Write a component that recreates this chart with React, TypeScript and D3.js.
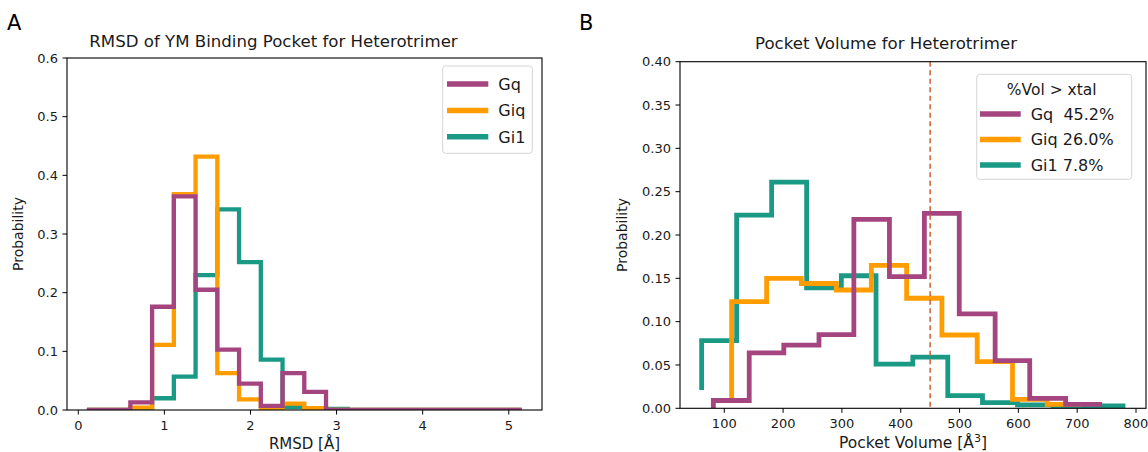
import React from 'react';
import * as d3 from 'd3';

// ---------- Panel A: RMSD histogram (step) ----------
const rmsdEdges = [0.10, 0.3525, 0.605, 0.8575, 1.11, 1.3625, 1.615, 1.8675, 2.12, 2.3725, 2.625, 2.8775, 3.13, 3.3825, 3.635, 3.8875, 4.14, 4.3925, 4.645, 4.8975, 5.15];
const rmsdGq = [0, 0, 0.013, 0.176, 0.364, 0.205, 0.103, 0.045, 0.007, 0.063, 0.031, 0, 0, 0, 0, 0, 0, 0, 0, 0];
const rmsdGiq = [0, 0, 0.004, 0.111, 0.368, 0.432, 0.063, 0.018, 0.003, 0.011, 0.003, 0, 0, 0, 0, 0, 0, 0, 0, 0];
const rmsdGi1 = [0, 0, 0, 0.020, 0.057, 0.230, 0.342, 0.252, 0.086, 0.005, 0.003, 0.002, 0, 0, 0, 0, 0, 0, 0, 0];

const rmsdXTicks = [0, 1, 2, 3, 4, 5];
const rmsdYTicks = [0, 0.1, 0.2, 0.3, 0.4, 0.5, 0.6];

// ---------- Panel B: pocket volume (step, 'pre') ----------
const volGqX = [81.4, 142.4, 201.2, 261, 320.3, 380.8, 440.2, 499.5, 560.5, 619.3, 680.4, 742.4];
const volGqY = [0.0, 0.009, 0.064, 0.073, 0.085, 0.218, 0.152, 0.225, 0.109, 0.055, 0.0115, 0.0046];
const volGiqX = [112.5, 172, 231, 290.5, 350, 410, 470, 530, 590, 649, 708.5];
const volGiqY = [0.0104, 0.123, 0.150, 0.144, 0.1365, 0.165, 0.127, 0.0846, 0.0538, 0.0104, 0.0046];
const volGi1X = [61.5, 121, 180.5, 240, 299, 358, 420.5, 480, 539, 598.5, 659, 720, 782];
const volGi1Y = [0.021, 0.078, 0.223, 0.261, 0.139, 0.153, 0.051, 0.059, 0.0146, 0.0065, 0.004, 0.003, 0.0027];

const volXTicks = [100, 200, 300, 400, 500, 600, 700, 800];
const volYTicks = [0, 0.05, 0.10, 0.15, 0.20, 0.25, 0.30, 0.35, 0.40];
const xtalVolume = 450;

const seriesNames = ['Gq', 'Giq', 'Gi1'];
const seriesPct = ['45.2%', '26.0%', '7.8%'];
const legendTitleB = '%Vol > xtal';
const colors = ['#a4457f', '#ff9d00', '#1a9985'];

const FONT = "'DejaVu Sans', sans-serif";
const TXT = '#1a1a1a';

type Pt = [number, number];

function Axes({ x0, x1, y0, y1, xs, ys, xTicks, yTicks, xFmt, yFmt, id, children }: any) {
  return (
    <g>
      <defs>
        <clipPath id={id}>
          <rect x={x0} y={y0} width={x1 - x0} height={y1 - y0} />
        </clipPath>
      </defs>
      <g clipPath={`url(#${id})`}>{children}</g>
      <rect x={x0} y={y0} width={x1 - x0} height={y1 - y0} fill="none" stroke="#000" strokeWidth={1.1} />
      {xTicks.map((t: number) => (
        <g key={'x' + t}>
          <line x1={xs(t)} x2={xs(t)} y1={y1} y2={y1 + 4.5} stroke="#000" strokeWidth={1} />
          <text x={xs(t)} y={y1 + 19.5} textAnchor="middle" fontSize={13} fontFamily={FONT} fill={TXT}>{xFmt(t)}</text>
        </g>
      ))}
      {yTicks.map((t: number) => (
        <g key={'y' + t}>
          <line x1={x0 - 4.5} x2={x0} y1={ys(t)} y2={ys(t)} stroke="#000" strokeWidth={1} />
          <text x={x0 - 9} y={ys(t) + 4.7} textAnchor="end" fontSize={13} fontFamily={FONT} fill={TXT}>{yFmt(t)}</text>
        </g>
      ))}
    </g>
  );
}

export default function App() {
  // Panel A scales
  const ax0 = 67, ax1 = 542, ay0 = 58, ay1 = 410;
  const xA = d3.scaleLinear().domain([-0.131, 5.386]).range([ax0, ax1]);
  const yA = d3.scaleLinear().domain([0, 0.6]).range([ay1, ay0]);
  const lineA = d3.line<Pt>().x(d => xA(d[0])).y(d => yA(d[1])).curve(d3.curveStepBefore);
  const histPts = (h: number[]): Pt[] => [[rmsdEdges[0], 0] as Pt, ...h.map((v, i) => [rmsdEdges[i + 1], v] as Pt)];
  const rmsdSeries = [rmsdGq, rmsdGiq, rmsdGi1];

  // Panel B scales
  const bx0 = 680, bx1 = 1146, by0 = 61.7, by1 = 408.3;
  const xB = d3.scaleLinear().domain([24.7, 817]).range([bx0, bx1]);
  const yB = d3.scaleLinear().domain([0, 0.4]).range([by1, by0]);
  const lineB = d3.line<Pt>().x(d => xB(d[0])).y(d => yB(d[1])).curve(d3.curveStepBefore);
  const volSeries: [number[], number[]][] = [[volGqX, volGqY], [volGiqX, volGiqY], [volGi1X, volGi1Y]];

  const order = [2, 1, 0]; // Gi1 bottom, Gq on top

  return (
    <svg width={1148} height={452} style={{ position: 'absolute', left: 0, top: 0, background: '#fff' }}>
      <rect x={0} y={0} width={1148} height={452} fill="#fff" />
      {/* Panel letters */}
      <text x={7} y={30} fontSize={21} fontFamily={FONT} fill="#000">A</text>
      <text x={579} y={30} fontSize={21} fontFamily={FONT} fill="#000">B</text>

      {/* ---------- Panel A ---------- */}
      <text x={273.5} y={46.5} textAnchor="middle" fontSize={16.6} fontFamily={FONT} fill={TXT}>RMSD of YM Binding Pocket for Heterotrimer</text>
      <Axes id="clipA" x0={ax0} x1={ax1} y0={ay0} y1={ay1} xs={xA} ys={yA} xTicks={rmsdXTicks} yTicks={rmsdYTicks}
        xFmt={(t: number) => String(t)} yFmt={(t: number) => t.toFixed(1)}>
        {order.map(i => (
          <path key={i} d={lineA(histPts(rmsdSeries[i])) || ''} fill="none" stroke={colors[i]} strokeWidth={4.3} strokeLinejoin="miter" strokeLinecap="butt" />
        ))}
      </Axes>
      <text x={(ax0 + ax1) / 2} y={449} textAnchor="middle" fontSize={15} fontFamily={FONT} fill={TXT}>RMSD [Å]</text>
      <text transform={`translate(22.5,${(ay0 + ay1) / 2}) rotate(-90)`} textAnchor="middle" fontSize={14} fontFamily={FONT} fill={TXT}>Probability</text>
      {/* Legend A */}
      <rect x={442.7} y={66} width={89.6} height={87.3} rx={3} fill="#fff" fillOpacity={0.8} stroke="#d5d5d5" strokeWidth={1} />
      {seriesNames.map((n, i) => (
        <g key={n}>
          <line x1={447} x2={488.3} y1={84 + i * 26.4} y2={84 + i * 26.4} stroke={colors[i]} strokeWidth={5.5} />
          <text x={498.3} y={84 + i * 26.4 + 5.8} fontSize={16} fontFamily={FONT} fill={TXT}>{n}</text>
        </g>
      ))}

      {/* ---------- Panel B ---------- */}
      <text x={886} y={48.5} textAnchor="middle" fontSize={16.6} fontFamily={FONT} fill={TXT}>Pocket Volume for Heterotrimer</text>
      <Axes id="clipB" x0={bx0} x1={bx1} y0={by0} y1={by1} xs={xB} ys={yB} xTicks={volXTicks} yTicks={volYTicks}
        xFmt={(t: number) => String(t)} yFmt={(t: number) => t.toFixed(2)}>
        {order.map(i => (
          <path key={i} d={lineB(volSeries[i][0].map((x, k) => [x, volSeries[i][1][k]] as Pt)) || ''} fill="none" stroke={colors[i]} strokeWidth={4.8} strokeLinejoin="miter" strokeLinecap="butt" />
        ))}
        <line x1={xB(xtalVolume)} x2={xB(xtalVolume)} y1={by0} y2={by1} stroke="#cd6a3d" strokeWidth={1.6} strokeDasharray="5,3.5" />
      </Axes>
      <text x={(bx0 + bx1) / 2} y={447.5} textAnchor="middle" fontSize={15.5} fontFamily={FONT} fill={TXT}>
        Pocket Volume [Å<tspan baselineShift="super" fontSize={11}>3</tspan>]
      </text>
      <text transform={`translate(627,${(by0 + by1) / 2}) rotate(-90)`} textAnchor="middle" fontSize={14} fontFamily={FONT} fill={TXT}>Probability</text>
      {/* Legend B */}
      <rect x={976.7} y={74.3} width={155} height={105} rx={3} fill="#fff" fillOpacity={0.8} stroke="#d5d5d5" strokeWidth={1} />
      <text x={1051.7} y={89.3 + 5.6} textAnchor="middle" fontSize={15.5} fontFamily={FONT} fill={TXT}>{legendTitleB}</text>
      {seriesNames.map((n, i) => (
        <g key={'b' + n}>
          <line x1={980} x2={1020.7} y1={114 + i * 25.5} y2={114 + i * 25.5} stroke={colors[i]} strokeWidth={5.5} />
          <text x={1030.7} y={114 + i * 25.5 + 5.8} fontSize={16} fontFamily={FONT} fill={TXT} style={{ whiteSpace: 'pre' }}>{n + (n === 'Gq' ? '  ' : ' ') + seriesPct[i]}</text>
        </g>
      ))}
    </svg>
  );
}
